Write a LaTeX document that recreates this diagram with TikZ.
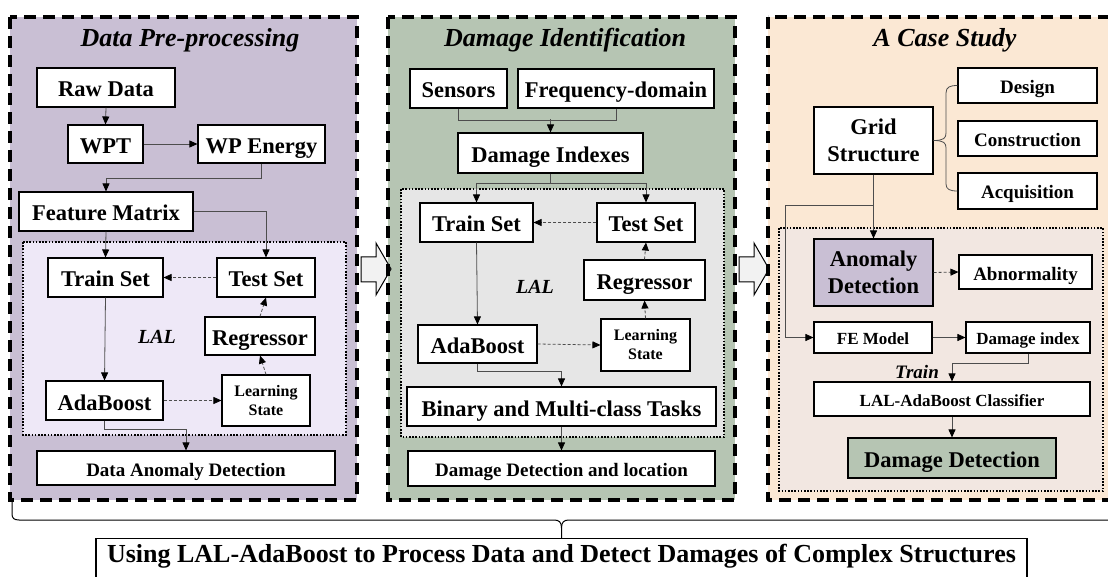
\documentclass[tikz,border=0pt]{standalone}
\usepackage{fontspec}
\setmainfont{Liberation Serif}
\usetikzlibrary{arrows.meta}
\definecolor{lav}{HTML}{C9BFD4}
\definecolor{lavin}{HTML}{EEE8F7}
\definecolor{sage}{HTML}{B6C5B3}
\definecolor{grayin}{HTML}{E6E6E6}
\definecolor{peach}{HTML}{FBE8D4}
\definecolor{peachin}{HTML}{F2E7E1}
\definecolor{arrowfill}{HTML}{F2F2F2}
\definecolor{lineclr}{HTML}{4D4D4D}
\newcommand\mybox[7][]{%
  \pgfmathsetmacro\mycx{(#3+#5)/2}%
  \pgfmathsetmacro\mycy{(#4+#6)/2}%
  \pgfmathsetmacro\myw{#5-#3}%
  \pgfmathsetmacro\myh{#6-#4}%
  \node[minimum width=\myw pt,minimum height=\myh pt,#1] (#2) at (\mycx,\mycy) {#7};}
\tikzset{
  box/.style={draw=black,line width=1.1pt,fill=white,inner sep=0pt,align=center},
  big/.style={box,font=\bfseries\fontsize{22.5pt}{27pt}\selectfont,text height=19pt,text depth=0pt},
  med/.style={box,font=\bfseries\fontsize{19pt}{23pt}\selectfont,text height=16pt,text depth=0pt},
  sm/.style={box,font=\bfseries\fontsize{17pt}{20pt}\selectfont,text height=14.5pt,text depth=0pt},
  two/.style={box,font=\bfseries\fontsize{22.5pt}{27pt}\selectfont},
  lsbox/.style={box,font=\bfseries\fontsize{16pt}{19pt}\selectfont},
  title/.style={font=\bfseries\itshape\fontsize{26pt}{31pt}\selectfont,anchor=base,inner sep=0pt},
  lbl/.style={font=\bfseries\itshape\fontsize{20pt}{24pt}\selectfont,inner sep=0pt},
  line/.style={draw=lineclr,line width=0.8pt},
  conn/.style={line,-{Triangle[length=8pt,width=7pt,color=black]}},
  dconn/.style={conn,dash pattern=on 3pt off 2pt},
  dashbox/.style={draw=black,line width=4pt,dash pattern=on 12pt off 7pt},
  dotbox/.style={draw=black,line width=1.6pt,dash pattern=on 1.6pt off 1.6pt},
  bigarrow/.style={draw=black,line width=1pt,fill=arrowfill,line join=miter}
}
\begin{document}
\begin{tikzpicture}[x=1pt,y=-1pt]
\clip (0,0) rectangle (1108,577);
% panel fills
\path[fill=lav] (10,17) rectangle (357,500);
\path[fill=sage] (388,17) rectangle (735,500);
\path[fill=peach] (768,17) rectangle (1130,500);
\path[fill=lavin,dotbox] (23,242) rectangle (346,435);
\path[fill=grayin,dotbox] (401,189) rectangle (724,437);
\path[fill=peachin,dotbox] (779,228) rectangle (1103,491);
% big arrows
\draw[bigarrow] (361,257) -- (376,257) -- (376,243) -- (391,269) -- (376,295) -- (376,282) -- (361,282) -- cycle;
\draw[bigarrow] (739,257) -- (754,257) -- (754,243) -- (769,269) -- (754,295) -- (754,282) -- (739,282) -- cycle;
% panel borders
\draw[dashbox] (10,17) rectangle (357,500);
\draw[dashbox] (388,17) rectangle (735,500);
\draw[dashbox] (768,17) rectangle (1140,500);
% titles
\node[title] (t1) at (190,46.5) {Data Pre-processing};
\node[title] (t2) at (565,46.5) {Damage Identification};
\node[title] (t3) at (945,46.5) {A Case Study};
% ---------- panel 1
\mybox[big]{raw}{37}{68}{175}{107}{Raw Data}
\mybox[big]{wpt}{68}{125}{143}{163}{WPT}
\mybox[big]{wpe}{198}{125}{325}{163}{WP Energy}
\mybox[big]{fm}{19}{192}{193}{231}{Feature Matrix}
\mybox[big]{trainA}{48}{258}{163}{297}{Train Set}
\mybox[big]{testA}{217}{258}{315}{297}{Test Set}
\mybox[big]{regA}{205}{317}{315}{355}{Regressor}
\mybox[big]{adaA}{46}{381}{163}{420}{AdaBoost}
\mybox[lsbox]{lsA}{222}{375}{310}{426}{Learning\\State}
\mybox[med]{dad}{37}{451}{335}{485}{Data Anomaly Detection}
\node[lbl] (lalA) at (157,337) {LAL};
\draw[conn] (raw.south) -- (wpt.north);
\draw[conn] (wpt.east) -- (wpe.west);
\draw[conn] (wpe.south) -- ++(0,15) -| (fm.north);
\draw[conn] (fm.east) -| (testA.north);
\draw[conn] (fm.south) -- (trainA.north);
\draw[dconn] (testA.west) -- (trainA.east);
\draw[conn] (trainA.south) -- (adaA.north);
\draw[dconn] (adaA.east) -- (lsA.west);
\draw[dconn] (lsA.north) -- (regA.south);
\draw[dconn] (regA.north) -- (testA.south);
\draw[conn] (adaA.south) -- ++(0,9) -| (dad.north);
% ---------- panel 2
\mybox[big]{sens}{410}{69}{507}{108}{Sensors}
\mybox[big]{freq}{518}{69}{714}{108}{Frequency-domain}
\mybox[big]{dmi}{458}{133}{643}{173}{Damage Indexes}
\mybox[big]{trainB}{420}{203}{533}{242}{Train Set}
\mybox[big]{testB}{597}{203}{695}{242}{Test Set}
\mybox[big]{regB}{584}{260}{705}{300}{Regressor}
\mybox[big]{adaB}{418}{325}{537}{363}{AdaBoost}
\mybox[lsbox]{lsB}{601}{319}{690}{371}{Learning\\State}
\mybox[big]{bin}{407}{387}{716}{426}{Binary and Multi-class Tasks}
\mybox[med]{ddl}{408}{451}{715}{486}{Damage Detection and location}
\node[lbl] (lalB) at (535,287) {LAL};
\draw[line] (sens.south) -- ++(0,12) -| (freq.south);
\draw[conn] (dmi.north) ++(0,-13) -- (dmi.north);
\draw[conn] (dmi.south) -- ++(0,10) -| (trainB.north);
\draw[conn] (dmi.south) -- ++(0,10) -| (testB.north);
\draw[dconn] (testB.west) -- (trainB.east);
\draw[conn] (trainB.south) -- (adaB.north);
\draw[dconn] (adaB.east) -- (lsB.west);
\draw[dconn] (lsB.north) -- (regB.south);
\draw[dconn] (regB.north) -- (testB.south);
\draw[conn] (adaB.south) -- ++(0,8) -| (bin.north);
\draw[conn] (bin.south) -- (ddl.north);
% ---------- panel 3
\mybox[med]{design}{958}{68}{1097}{103}{Design}
\mybox[med]{cons}{958}{121}{1097}{156}{Construction}
\mybox[med]{acq}{958}{173}{1097}{209}{Acquisition}
\mybox[two]{grid}{814}{107}{933}{174}{Grid\\Structure}
\mybox[two,fill=lav]{anom}{814}{239}{933}{306}{Anomaly\\Detection}
\mybox[med]{abn}{959}{255}{1092}{289}{Abnormality}
\mybox[sm]{fe}{814}{322}{932}{353}{FE Model}
\mybox[sm]{dmg}{966}{322}{1090}{353}{Damage index}
\mybox[sm]{lal}{814}{382}{1090}{416}{LAL-AdaBoost Classifier}
\mybox[big,fill=sage]{dd}{848}{438}{1056}{478}{Damage Detection}
\node[lbl,font=\bfseries\itshape\fontsize{19pt}{23pt}\selectfont] (train) at (917,372) {Train};
\coordinate (febend) at (785,337.5);
\draw[line] (design.west) .. controls (950,85.5) and (946,87) .. (946,93) -- (946,133) .. controls (946,138) and (944,140.5) .. (grid.east);
\draw[line] (acq.west) .. controls (950,191) and (946,189.5) .. (946,184) -- (946,148) .. controls (946,143) and (944,140.5) .. (grid.east);
\draw[conn] (grid.south) -- (anom.north);
\draw[conn] (grid.south) -- ++(0,31) -| (febend) -- (fe.west);
\draw[dconn] (anom.east) -- (abn.west);
\draw[conn] (fe.east) -- (dmg.west);
\draw[conn] (dmg.south) -- ++(0,10) -| (lal.north);
\draw[conn] (lal.south) -- (dd.north);
% ---------- bottom
\node[draw=black,line width=1.1pt,anchor=north,inner xsep=0pt,inner ysep=0pt,minimum width=931pt,text height=24pt,text depth=30pt,font=\bfseries\fontsize{26pt}{31pt}\selectfont] (bottom) at (561.5,538) {Using LAL-AdaBoost to Process Data and Detect Damages of Complex Structures};
\coordinate (brL) at (12,501);
\coordinate (brR) at (1125,520);
\draw[line,draw=black,line width=1pt] (brL) -- (12,514) .. controls (12,518) and (14,520) .. (19,520) -- (554,520) .. controls (559,520) and (561.5,522) .. (561.5,528) -- (bottom.north);
\draw[line,draw=black,line width=1pt] (brR) -- (569,520) .. controls (564,520) and (561.5,522) .. (561.5,528);
\end{tikzpicture}
\end{document}
